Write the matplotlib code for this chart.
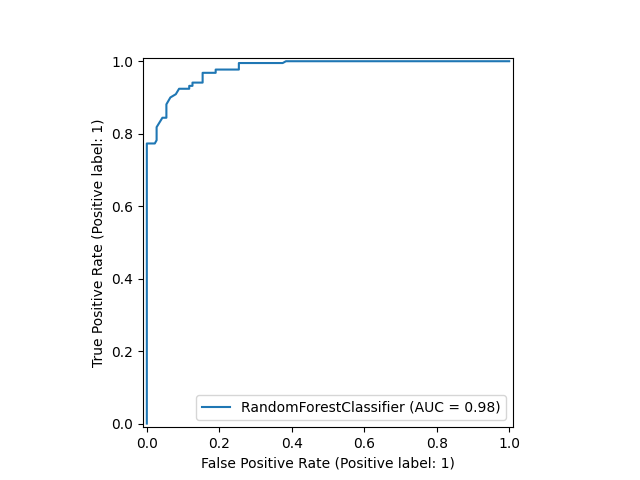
import matplotlib
matplotlib.use("Agg")
import matplotlib.pyplot as plt

fpr = [0.0, 0.0, 0.022, 0.027, 0.027, 0.043, 0.054, 0.054, 0.065, 0.08, 0.089, 0.117, 0.117,
       0.126, 0.126, 0.154, 0.154, 0.19, 0.19, 0.254, 0.254, 0.375, 0.384, 1.0]
tpr = [0.0, 0.773, 0.773, 0.782, 0.818, 0.844, 0.844, 0.881, 0.9, 0.909, 0.924, 0.924, 0.932,
       0.932, 0.941, 0.941, 0.968, 0.968, 0.977, 0.977, 0.995, 0.995, 1.0, 1.0]
label = "RandomForestClassifier (AUC = 0.98)"

fig, ax = plt.subplots(figsize=(6.4, 4.8), dpi=100)
ax.plot(fpr, tpr, label=label)
ax.set_xlim(-0.01, 1.01)
ax.set_ylim(-0.01, 1.01)
ax.set_aspect("equal")
ax.set_xlabel("False Positive Rate (Positive label: 1)")
ax.set_ylabel("True Positive Rate (Positive label: 1)")
ax.legend(loc="lower right")
fig.savefig("out.png")
